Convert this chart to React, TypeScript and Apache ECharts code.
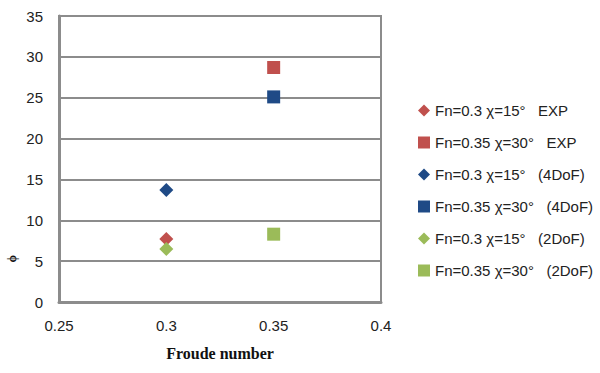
import React, { useEffect, useRef } from "react";
import * as echarts from "echarts";

const seriesNames = [
  "Fn=0.3 χ=15°   EXP",
  "Fn=0.35 χ=30°   EXP",
  "Fn=0.3 χ=15°   (4DoF)",
  "Fn=0.35 χ=30°   (4DoF)",
  "Fn=0.3 χ=15°   (2DoF)",
  "Fn=0.35 χ=30°   (2DoF)",
];
const froude = [0.3, 0.35, 0.3, 0.35, 0.3, 0.35];
const values = [7.7, 28.7, 13.7, 25.1, 6.5, 8.3];
const colors = ["#C0504D", "#C0504D", "#1F4A86", "#1F4A86", "#9BBB59", "#9BBB59"];
const symbols = ["diamond", "rect", "diamond", "rect", "diamond", "rect"];
const xTicks = ["0.25", "0.3", "0.35", "0.4"];

export default function App() {
  const ref = useRef<HTMLDivElement>(null);
  useEffect(() => {
    if (!ref.current) return;
    const chart = echarts.init(ref.current, null, { renderer: "svg" });
    chart.setOption({
      animation: false,
      grid: {
        left: 59,
        right: 219,
        top: 16,
        bottom: 71,
        show: true,
        borderColor: "#8c8c8c",
        borderWidth: 2,
      },
      xAxis: {
        type: "value",
        min: 0.25,
        max: 0.4,
        interval: 0.05,
        name: "Froude number",
        nameLocation: "middle",
        nameGap: 43,
        nameTextStyle: {
          fontFamily: "Liberation Serif",
          fontWeight: "bold",
          fontSize: 16,
          color: "#111",
        },
        axisLine: { show: true, lineStyle: { color: "#8c8c8c", width: 3 } },
        axisTick: { show: false },
        splitLine: { show: false },
        axisLabel: {
          margin: 16,
          fontFamily: "Liberation Sans",
          fontSize: 15,
          color: "#222",
          formatter: (v: number) => {
            const i = Math.round((v - 0.25) / 0.05);
            return xTicks[i] ?? String(v);
          },
        },
      },
      yAxis: {
        type: "value",
        min: 0,
        max: 35,
        interval: 5,
        axisLine: { show: true, lineStyle: { color: "#8c8c8c", width: 3 } },
        axisTick: { show: false },
        splitLine: { show: true, lineStyle: { color: "#8c8c8c", width: 2 } },
        axisLabel: {
          margin: 16,
          fontFamily: "Liberation Sans",
          fontSize: 15,
          color: "#222",
        },
      },
      legend: {
        orient: "vertical",
        left: 413,
        top: 98,
        itemWidth: 12,
        itemHeight: 12,
        itemGap: 17,
        textStyle: {
          fontFamily: "Liberation Sans",
          fontSize: 15,
          color: "#222",
        },
        data: seriesNames.map((n, i) => ({ name: n, icon: symbols[i] })),
      },
      graphic: [
        {
          type: "text",
          left: 6,
          top: 255,
          rotation: Math.PI / 2,
          style: {
            text: "ϕ",
            font: "bold 12px Liberation Serif",
            fill: "#111",
          },
        },
      ],
      series: seriesNames.map((n, i) => ({
        name: n,
        type: "scatter",
        symbol: symbols[i],
        symbolSize: symbols[i] === "diamond" ? 14 : 13,
        itemStyle: { color: colors[i], opacity: 1 },
        data: [[froude[i], values[i]]],
      })),
    });
    return () => chart.dispose();
  }, []);
  return (
    <div
      ref={ref}
      style={{ position: "absolute", left: 0, top: 0, width: 600, height: 373 }}
    />
  );
}
